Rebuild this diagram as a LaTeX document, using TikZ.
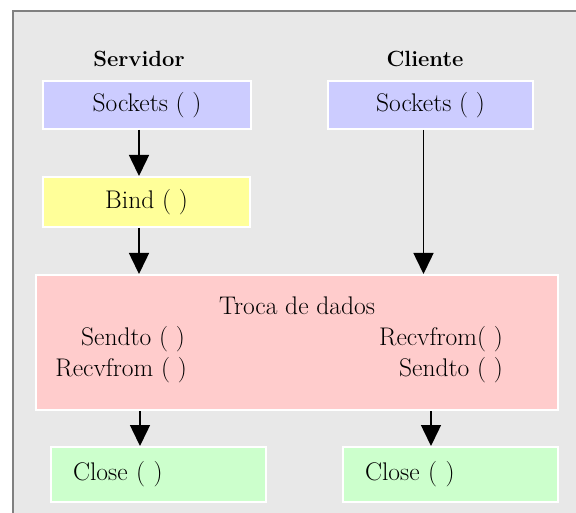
\documentclass[tikz,border=0pt]{standalone}
\usepackage{fontspec}
\usetikzlibrary{arrows.meta}
\definecolor{bgc}{HTML}{E8E8E8}
\definecolor{framec}{HTML}{808080}
\definecolor{sockc}{HTML}{CCCCFF}
\definecolor{bindc}{HTML}{FFFF99}
\definecolor{trocac}{HTML}{FFCCCC}
\definecolor{closec}{HTML}{CCFFCC}
\begin{document}
\begin{tikzpicture}[x=1pt,y=-1pt,
  box/.style={rectangle, draw=white, line width=2pt, inner sep=0pt, font=\fontsize{25.5}{30}\selectfont},
  txt/.style={inner sep=0pt, font=\fontsize{25.5}{30}\selectfont},
  hdr/.style={inner sep=0pt, font=\fontsize{22}{27}\selectfont\bfseries},
  arr/.style={line width=1.5pt, -{Triangle[width=20pt,length=21pt]}}]
\useasboundingbox (0,0) rectangle (576,513);
\clip (0,0) rectangle (576,513);
\fill[white] (0,0) rectangle (576,513);
\draw[fill=bgc, draw=framec, line width=2.5pt] (13,11) rectangle (600,540);

\node[hdr] (hs) at (139,59) {Servidor};
\node[hdr] (hc) at (425,59) {Cliente};

\node[box, fill=sockc, minimum width=208pt, minimum height=48pt] (ss) at (147,105) {Sockets ( )};
\node[box, fill=sockc, minimum width=205pt, minimum height=48pt] (cs) at (430.5,105) {Sockets ( )};
\node[box, fill=bindc, minimum width=207pt, minimum height=50pt] (bind) at (146.5,202) {Bind ( )};
\node[box, fill=trocac, minimum width=522pt, minimum height=135pt] (troca) at (297,342.5) {};
\node[txt] (t0) at (297,306) {Troca de dados};
\node[txt, anchor=east] (t1) at (185,339) {Sendto ( )};
\node[txt, anchor=east] (t2) at (187,370) {Recvfrom ( )};
\node[txt, anchor=east] (t3) at (503,339) {Recvfrom( )};
\node[txt, anchor=east] (t4) at (503,370) {Sendto ( )};
\node[box, fill=closec, minimum height=55pt, text width=171pt, inner xsep=22pt, align=left] (cl) at (158.5,474.5) {Close ( )};
\node[box, fill=closec, minimum height=55pt, text width=171pt, inner xsep=22pt, align=left] (cr) at (450.5,474.5) {Close ( )};

\draw[arr] ([xshift=-8pt]ss.south) -- ([xshift=-7.5pt]bind.north);
\draw[arr] ([xshift=-7.5pt]bind.south) -- ([xshift=-158pt]troca.north);
\draw[arr] ([xshift=-7pt]cs.south) -- ([xshift=126.5pt]troca.north);
\draw[arr] ([xshift=-157pt]troca.south) -- ([xshift=-18.5pt]cl.north);
\draw[arr] ([xshift=134pt]troca.south) -- ([xshift=-19.5pt]cr.north);
\end{tikzpicture}
\end{document}
